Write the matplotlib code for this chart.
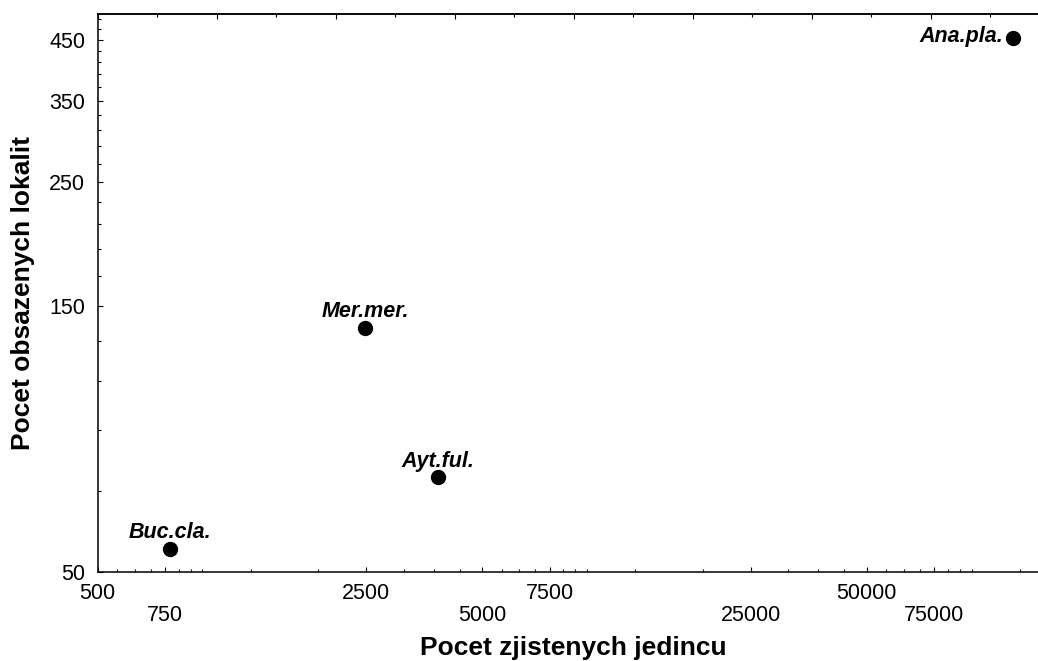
import matplotlib
matplotlib.use("Agg")
import matplotlib.pyplot as plt
from matplotlib.ticker import FixedLocator, NullFormatter

plt.rcParams['font.family'] = ['Liberation Sans', 'DejaVu Sans']

# data (log-log)
species = ["Buc.cla.", "Mer.mer.", "Ayt.ful.", "Ana.pla."]
individuals = [772, 2480, 3830, 120400]
sites = [55, 137, 74, 454]
label_side = ["above", "above", "above", "left"]

# axis ticks
x_upper = [500, 2500, 7500, 50000]
x_lower = [750, 5000, 25000, 75000]
x_minor = [562.5, 625, 687.5, 812.5, 875, 937.5, 1250, 1875,
           3125, 3750, 4375, 5625, 6250, 6875, 8125, 8750, 9375,
           12500, 18750, 31250, 37500, 43750, 56250, 62500, 68750,
           81250, 87500, 93750, 125000]
y_major = [50, 150, 250, 350, 450]
y_minor = [70, 90, 110, 130, 170, 190, 210, 230, 270, 290, 310, 330,
           370, 390, 410, 430, 470, 490]

W, H = 1038, 661
fig = plt.figure(figsize=(W / 100, H / 100), dpi=100)
# right end of the axis runs past the picture edge, as in the original
ax = fig.add_axes([97.5 / W, 89 / H, 952.5 / W, 557.7 / H])
ax.set_xscale("log")
ax.set_yscale("log")
ax.set_xlim(500, 150000)
ax.set_ylim(50, 500)

ax.plot(individuals, sites, "o", color="black", markersize=10, linestyle="none")

for name, xv, yv, side in zip(species, individuals, sites, label_side):
    if side == "left":
        ax.annotate(name, (xv, yv), xytext=(-7, -3), textcoords="offset points",
                    ha="right", va="baseline", fontsize=15.5,
                    fontweight="bold", fontstyle="italic")
    else:
        ax.annotate(name, (xv, yv), xytext=(0, 7.5), textcoords="offset points",
                    ha="center", va="baseline", fontsize=15.5,
                    fontweight="bold", fontstyle="italic")

# x ticks: two staggered rows of labels
x_major = sorted(x_upper + x_lower)
x_labels = [str(v) if v in x_upper else "\n" + str(v) for v in x_major]
ax.xaxis.set_major_locator(FixedLocator(x_major))
ax.set_xticklabels(x_labels)
ax.xaxis.set_minor_locator(FixedLocator(x_minor))
ax.xaxis.set_minor_formatter(NullFormatter())
for lab in ax.get_xticklabels():
    lab.set_linespacing(1.05)

ax.yaxis.set_major_locator(FixedLocator(y_major))
ax.set_yticklabels([str(v) for v in y_major])
ax.yaxis.set_minor_locator(FixedLocator(y_minor))
ax.yaxis.set_minor_formatter(NullFormatter())

ax.tick_params(which="both", direction="in", width=0.8, labelsize=15.5)
ax.tick_params(which="major", length=3.5)
ax.tick_params(which="minor", length=2)
ax.tick_params(axis="x", pad=8)
ax.tick_params(axis="y", pad=9)

for side in ["left", "bottom", "top"]:
    ax.spines[side].set_linewidth(1.1)
ax.spines["right"].set_visible(False)

# top border carries its own evenly spaced ticks
top = ax.twiny()
top.set_xlim(0, 16)
top.xaxis.set_major_locator(FixedLocator(range(0, 17, 2)))
top.xaxis.set_minor_locator(FixedLocator(range(1, 17, 2)))
top.xaxis.set_major_formatter(NullFormatter())
top.tick_params(which="both", direction="in", width=0.8)
top.tick_params(which="major", length=3.5)
top.tick_params(which="minor", length=2)
for side in ["left", "bottom", "right"]:
    top.spines[side].set_visible(False)
top.spines["top"].set_linewidth(1.1)

ax.set_xlabel("Pocet zjistenych jedincu", fontsize=19, fontweight="bold", labelpad=7)
ax.set_ylabel("Pocet obsazenych lokalit", fontsize=19, fontweight="bold", labelpad=10)

fig.savefig("out.png", dpi=100)
